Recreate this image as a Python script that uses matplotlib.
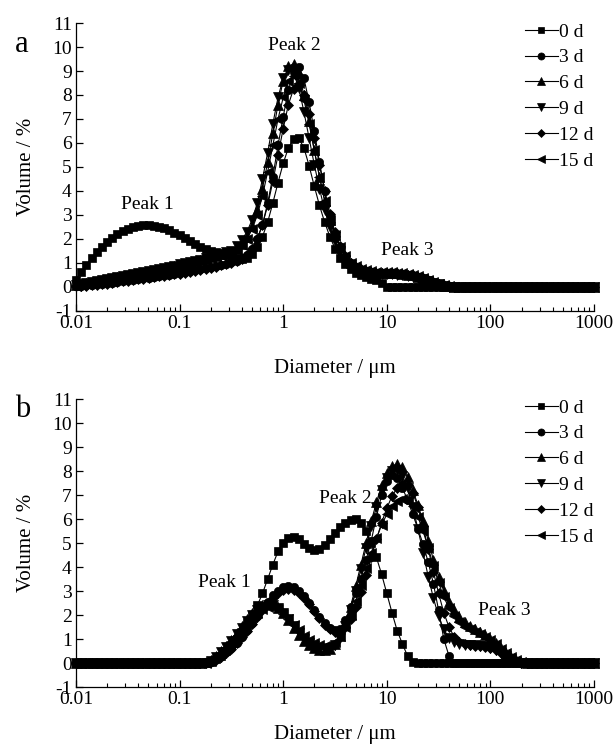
import numpy as np
import matplotlib
matplotlib.use("Agg")
import matplotlib.pyplot as plt
from matplotlib.ticker import LogLocator, NullFormatter, FixedLocator

plt.rcParams["font.family"] = ["Liberation Serif", "DejaVu Serif"]
plt.rcParams["axes.unicode_minus"] = False

N = 101
# laser diffraction size bins, 20 per decade from 0.01 to 1000 um
diameter = np.logspace(-2, 3, N)

labels = ["0 d", "3 d", "6 d", "9 d", "12 d", "15 d"]
markers = ["s", "o", "^", "v", "D", "<"]
msizes = [5.5, 6, 6.5, 6.5, 5, 6.5]


def full(vals, lead=0):
    return [0.0] * lead + vals + [0.0] * (N - lead - len(vals))


########################
# panel a

a_0d = full([0.3, 0.62, 0.92, 1.2, 1.45, 1.68, 1.88, 2.05, 2.2, 2.32,
             2.42, 2.49, 2.54, 2.57, 2.58, 2.56, 2.52, 2.45, 2.37, 2.27,
             2.16, 2.04, 1.92, 1.8, 1.68, 1.58, 1.5, 1.44, 1.39, 1.33,
             1.27, 1.2, 1.17, 1.22, 1.38, 1.65, 2.1, 2.7, 3.5, 4.35,
             5.15, 5.8, 6.15, 6.2, 5.8, 5.05, 4.2, 3.4, 2.7, 2.1,
             1.6, 1.22, 0.95, 0.75, 0.6, 0.5, 0.42, 0.35, 0.27, 0.18])

a_3d = full([0.03, 0.05, 0.07, 0.09, 0.11, 0.13, 0.15, 0.18, 0.21, 0.24,
             0.27, 0.3, 0.33, 0.36, 0.39, 0.42, 0.45, 0.48, 0.51, 0.54,
             0.58, 0.62, 0.66, 0.7, 0.74, 0.78, 0.82, 0.87, 0.92, 0.97,
             1.03, 1.1, 1.2, 1.35, 1.6, 2.0, 2.6, 3.5, 4.6, 5.9,
             7.1, 8.2, 8.95, 9.15, 8.7, 7.7, 6.5, 5.2, 4.0, 3.0,
             2.2, 1.65, 1.25, 0.98, 0.8, 0.7, 0.64, 0.6, 0.58, 0.57,
             0.57, 0.56, 0.55, 0.53, 0.5, 0.46, 0.41, 0.34, 0.27, 0.19,
             0.12, 0.06, 0.02])

a_6d = full([0.08, 0.12, 0.16, 0.2, 0.24, 0.28, 0.32, 0.36, 0.4, 0.44,
             0.48, 0.52, 0.56, 0.6, 0.64, 0.68, 0.72, 0.77, 0.82, 0.87,
             0.92, 0.97, 1.02, 1.07, 1.12, 1.18, 1.24, 1.3, 1.36, 1.4,
             1.45, 1.6, 1.8, 2.1, 2.55, 3.2, 4.1, 5.2, 6.4, 7.6,
             8.6, 9.2, 9.3, 8.9, 8.0, 6.9, 5.7, 4.6, 3.6, 2.8,
             2.15, 1.65, 1.28, 1.02, 0.85, 0.74, 0.67, 0.62, 0.6, 0.59,
             0.58, 0.58, 0.57, 0.55, 0.52, 0.48, 0.43, 0.36, 0.29, 0.21,
             0.13, 0.06, 0.02])

a_9d = full([0.1, 0.14, 0.18, 0.22, 0.26, 0.3, 0.34, 0.38, 0.42, 0.46,
             0.5, 0.54, 0.58, 0.62, 0.66, 0.7, 0.74, 0.79, 0.84, 0.89,
             0.94, 0.99, 1.04, 1.09, 1.14, 1.2, 1.26, 1.32, 1.38, 1.44,
             1.5, 1.7, 1.95, 2.3, 2.8, 3.5, 4.5, 5.6, 6.8, 7.9,
             8.7, 9.05, 8.9, 8.3, 7.3, 6.2, 5.1, 4.1, 3.2, 2.5,
             1.9, 1.45, 1.12, 0.9, 0.76, 0.67, 0.62, 0.58, 0.56, 0.55,
             0.54, 0.53, 0.52, 0.5, 0.47, 0.43, 0.38, 0.32, 0.25, 0.18,
             0.11, 0.05, 0.01])

a_12d = full([0.02, 0.04, 0.06, 0.08, 0.1, 0.12, 0.14, 0.17, 0.2, 0.23,
              0.26, 0.29, 0.32, 0.35, 0.38, 0.41, 0.44, 0.47, 0.5, 0.53,
              0.56, 0.6, 0.64, 0.68, 0.72, 0.76, 0.8, 0.85, 0.9, 0.95,
              1.0, 1.07, 1.17, 1.32, 1.58, 2.0, 2.6, 3.4, 4.4, 5.5,
              6.6, 7.6, 8.25, 8.4, 8.0, 7.2, 6.2, 5.1, 4.0, 3.05,
              2.3, 1.72, 1.3, 1.02, 0.84, 0.73, 0.66, 0.62, 0.6, 0.59,
              0.59, 0.58, 0.57, 0.55, 0.52, 0.48, 0.43, 0.36, 0.29, 0.21,
              0.13, 0.07, 0.02])

a_15d = full([0.06, 0.1, 0.14, 0.18, 0.22, 0.26, 0.3, 0.34, 0.38, 0.42,
              0.46, 0.5, 0.54, 0.58, 0.62, 0.66, 0.7, 0.75, 0.8, 0.85,
              0.9, 0.95, 1.0, 1.05, 1.1, 1.16, 1.22, 1.28, 1.34, 1.4,
              1.48, 1.58, 1.74, 2.0, 2.4, 3.0, 3.8, 4.8, 5.9, 7.0,
              7.9, 8.6, 8.8, 8.5, 7.8, 6.8, 5.7, 4.6, 3.6, 2.8,
              2.15, 1.65, 1.28, 1.02, 0.86, 0.76, 0.7, 0.66, 0.64, 0.63,
              0.62, 0.61, 0.6, 0.58, 0.55, 0.5, 0.44, 0.37, 0.3, 0.22,
              0.14, 0.07, 0.02])

########################
# panel b

b_0d = full([0.0, 0.05, 0.15, 0.3, 0.5,
             0.75, 1.0, 1.3, 1.65, 2.0, 2.4, 2.9, 3.5, 4.1, 4.65,
             5.0, 5.2, 5.25, 5.15, 4.95, 4.8, 4.72, 4.75, 4.9, 5.15,
             5.4, 5.65, 5.85, 5.97, 6.0, 5.85, 5.5, 5.0, 4.4, 3.7,
             2.9, 2.1, 1.35, 0.8, 0.3, 0.05], lead=25)

b_3d = full([0.0, 0.05, 0.15, 0.28, 0.44,
             0.63, 0.85, 1.1, 1.38, 1.68, 1.98, 2.28, 2.56, 2.82, 3.02,
             3.15, 3.2, 3.15, 3.0, 2.78, 2.5, 2.2, 1.9, 1.65, 1.47,
             1.38, 1.42, 1.8, 2.35, 2.9, 3.5, 4.3, 5.1, 6.1, 7.0,
             7.6, 7.85, 7.7, 7.3, 6.8, 6.2, 5.6, 4.95, 4.2, 3.3,
             2.2, 1.0, 0.3], lead=25)

b_6d = full([0.03, 0.12, 0.28, 0.48, 0.72,
             0.98, 1.26, 1.55, 1.83, 2.08, 2.28, 2.42, 2.48, 2.44, 2.3,
             2.07, 1.78, 1.47, 1.17, 0.92, 0.74, 0.62, 0.56, 0.55, 0.6,
             0.78, 1.12, 1.65, 2.35, 3.2, 4.1, 5.0, 5.9, 6.7, 7.4,
             7.9, 8.2, 8.3, 8.15, 7.75, 7.2, 6.6, 5.9, 5.1, 4.3,
             3.6, 3.0, 2.55, 2.2, 1.9, 1.7, 1.55, 1.42, 1.3, 1.16,
             1.0, 0.82, 0.62, 0.43, 0.26, 0.12, 0.04], lead=25)

b_9d = full([0.02, 0.1, 0.25, 0.45, 0.68,
             0.93, 1.2, 1.48, 1.75, 2.0, 2.2, 2.35, 2.42, 2.4, 2.28,
             2.08, 1.82, 1.54, 1.26, 1.02, 0.84, 0.72, 0.64, 0.6, 0.62,
             0.75, 1.05, 1.55, 2.2, 3.0, 3.9, 4.8, 5.7, 6.5, 7.2,
             7.7, 8.0, 8.05, 7.8, 7.3, 6.5, 5.6, 4.6, 3.6, 2.7,
             1.95, 1.4, 1.05, 0.88, 0.8, 0.77, 0.76, 0.75, 0.73, 0.7,
             0.64, 0.55, 0.42, 0.28, 0.15, 0.06], lead=25)

b_12d = full([0.0, 0.04, 0.13, 0.26, 0.42,
              0.6, 0.82, 1.07, 1.34, 1.63, 1.92, 2.2, 2.46, 2.7, 2.9,
              3.03, 3.08, 3.04, 2.92, 2.72, 2.46, 2.16, 1.86, 1.6, 1.4,
              1.3, 1.32, 1.5, 1.85, 2.35, 2.95, 3.65, 4.4, 5.15, 5.85,
              6.45, 6.95, 7.3, 7.45, 7.4, 7.1, 6.5, 5.7, 4.75, 3.8,
              2.9, 2.1, 1.5, 1.1, 0.88, 0.78, 0.74, 0.72, 0.7, 0.67,
              0.62, 0.53, 0.4, 0.26, 0.13, 0.04], lead=25)

b_15d = full([0.02, 0.1, 0.24, 0.42, 0.64,
              0.88, 1.14, 1.4, 1.66, 1.9, 2.1, 2.26, 2.34, 2.34, 2.24,
              2.06, 1.84, 1.6, 1.36, 1.14, 0.96, 0.84, 0.76, 0.73, 0.76,
              0.88, 1.12, 1.5, 2.0, 2.6, 3.25, 3.95, 4.6, 5.2, 5.75,
              6.2, 6.55, 6.75, 6.85, 6.8, 6.55, 6.1, 5.5, 4.8, 4.05,
              3.35, 2.75, 2.3, 1.95, 1.7, 1.52, 1.4, 1.3, 1.2, 1.08,
              0.94, 0.78, 0.6, 0.42, 0.26, 0.13, 0.05], lead=25)

panel_a = [a_0d, a_3d, a_6d, a_9d, a_12d, a_15d]
panel_b = [b_0d, b_3d, b_6d, b_9d, b_12d, b_15d]

# peak labels: (text, diameter, volume)
peaks_a = [("Peak 1", 0.049, 3.45), ("Peak 2", 1.27, 10.05), ("Peak 3", 15.8, 1.5)]
peaks_b = [("Peak 1", 0.27, 3.35), ("Peak 2", 4.0, 6.85), ("Peak 3", 137, 2.2)]

#########################################################

fig = plt.figure(figsize=(6.13, 7.47), dpi=100)
ax_a = fig.add_axes([0.124, 0.5837, 0.845, 0.3855])
ax_b = fig.add_axes([0.124, 0.0803, 0.845, 0.3855])


def draw(ax, series, peaks, letter, ytxt, xpad):
    for vals, lab, m, ms in zip(series, labels, markers, msizes):
        ax.plot(diameter, vals, color="black", lw=0.8, marker=m, ms=ms,
                mfc="black", mec="black", mew=0.5, label=lab, clip_on=False)

    ax.set_xscale("log")
    ax.set_xlim(0.01, 1000)
    ax.set_ylim(-1, 11)
    ax.yaxis.set_major_locator(FixedLocator(range(-1, 12)))
    ax.xaxis.set_minor_locator(LogLocator(base=10, subs=np.arange(2, 10), numticks=10))
    ax.xaxis.set_minor_formatter(NullFormatter())
    ax.set_xticks([0.01, 0.1, 1, 10, 100, 1000])
    ax.set_xticklabels(["0.01", "0.1", "1", "10", "100", "1000"])

    ax.spines["top"].set_visible(False)
    ax.spines["right"].set_visible(False)
    for s in ("left", "bottom"):
        ax.spines[s].set_linewidth(0.9)
    ax.tick_params(which="major", direction="in", length=5, width=0.9, labelsize=14, pad=3)
    ax.tick_params(which="minor", direction="in", length=3, width=0.8)
    ax.tick_params(axis="y", which="minor", left=False)

    ax.set_xlabel("Diameter / \u03bcm", fontsize=15, labelpad=xpad)
    ax.set_ylabel("Volume / %", fontsize=15, labelpad=12)

    for txt, x, y in peaks:
        ax.text(x, y, txt, fontsize=14, ha="center", va="center")

    leg = ax.legend(loc="upper left", bbox_to_anchor=(0.866, 1.0), frameon=False,
                    fontsize=14, handlelength=1.7, handletextpad=0.05,
                    labelspacing=0.42, borderaxespad=0.0, borderpad=0.0,
                    numpoints=1, markerscale=0.85)

    fig.text(0.025, ytxt, letter, fontsize=22, ha="left", va="center")


draw(ax_a, panel_a, peaks_a, "a", 0.94, 19)
draw(ax_b, panel_b, peaks_b, "b", 0.452, 12)

fig.savefig("out.png", dpi=100)
